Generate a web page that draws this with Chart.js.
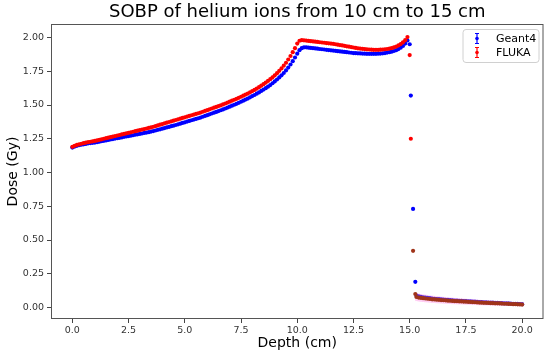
<!DOCTYPE html>
<html>
<head>
<meta charset="utf-8">
<script src="https://cdn.jsdelivr.net/npm/chart.js@4/dist/chart.umd.min.js"></script>
<style>
  html, body { margin: 0; padding: 0; background: #fff; }
  #wrap { width: 550px; height: 357px; }
</style>
</head>
<body>
<div id="wrap"><canvas id="sobp" width="550" height="357"></canvas></div>
<script>
// depth (cm) of every scoring bin
const depthCm = [
  0.0, 0.1, 0.2, 0.3, 0.4, 0.5, 0.6, 0.7, 0.8, 0.9,
  1.0, 1.1, 1.2, 1.3, 1.4, 1.5, 1.6, 1.7, 1.8, 1.9,
  2.0, 2.1, 2.2, 2.3, 2.4, 2.5, 2.6, 2.7, 2.8, 2.9,
  3.0, 3.1, 3.2, 3.3, 3.4, 3.5, 3.6, 3.7, 3.8, 3.9,
  4.0, 4.1, 4.2, 4.3, 4.4, 4.5, 4.6, 4.7, 4.8, 4.9,
  5.0, 5.1, 5.2, 5.3, 5.4, 5.5, 5.6, 5.7, 5.8, 5.9,
  6.0, 6.1, 6.2, 6.3, 6.4, 6.5, 6.6, 6.7, 6.8, 6.9,
  7.0, 7.1, 7.2, 7.3, 7.4, 7.5, 7.6, 7.7, 7.8, 7.9,
  8.0, 8.1, 8.2, 8.3, 8.4, 8.5, 8.6, 8.7, 8.8, 8.9,
  9.0, 9.1, 9.2, 9.3, 9.4, 9.5, 9.6, 9.7, 9.8, 9.9,
  10.0, 10.1, 10.2, 10.3, 10.4, 10.5, 10.6, 10.7, 10.8, 10.9,
  11.0, 11.1, 11.2, 11.3, 11.4, 11.5, 11.6, 11.7, 11.8, 11.9,
  12.0, 12.1, 12.2, 12.3, 12.4, 12.5, 12.6, 12.7, 12.8, 12.9,
  13.0, 13.1, 13.2, 13.3, 13.4, 13.5, 13.6, 13.7, 13.8, 13.9,
  14.0, 14.1, 14.2, 14.3, 14.4, 14.5, 14.6, 14.7, 14.8, 14.9,
  15.0, 15.05, 15.15, 15.25,
  15.3, 15.4, 15.5, 15.6, 15.7, 15.8, 15.9, 16.0,
  16.1, 16.2, 16.3, 16.4, 16.5, 16.6, 16.7, 16.8, 16.9, 17.0,
  17.1, 17.2, 17.3, 17.4, 17.5, 17.6, 17.7, 17.8, 17.9, 18.0,
  18.1, 18.2, 18.3, 18.4, 18.5, 18.6, 18.7, 18.8, 18.9, 19.0,
  19.1, 19.2, 19.3, 19.4, 19.5, 19.6, 19.7, 19.8, 19.9, 20.0
];

const geant4Dose = [
  1.185, 1.192, 1.198, 1.202, 1.206, 1.209, 1.212, 1.216, 1.218, 1.220,
  1.222, 1.225, 1.228, 1.232, 1.235, 1.238, 1.241, 1.245, 1.248, 1.251,
  1.254, 1.257, 1.260, 1.264, 1.267, 1.270, 1.273, 1.276, 1.280, 1.283,
  1.286, 1.289, 1.293, 1.296, 1.299, 1.303, 1.307, 1.311, 1.316, 1.320,
  1.325, 1.329, 1.334, 1.338, 1.343, 1.347, 1.352, 1.357, 1.362, 1.367,
  1.372, 1.377, 1.382, 1.387, 1.392, 1.397, 1.402, 1.407, 1.413, 1.419,
  1.425, 1.431, 1.437, 1.443, 1.449, 1.455, 1.461, 1.467, 1.474, 1.481,
  1.488, 1.495, 1.502, 1.509, 1.516, 1.524, 1.532, 1.540, 1.548, 1.557,
  1.566, 1.574, 1.584, 1.593, 1.604, 1.614, 1.625, 1.636, 1.648, 1.661,
  1.675, 1.689, 1.704, 1.720, 1.737, 1.756, 1.777, 1.800, 1.825, 1.852,
  1.880, 1.906, 1.921, 1.927, 1.927, 1.925, 1.923, 1.921, 1.919, 1.917,
  1.915, 1.913, 1.911, 1.909, 1.907, 1.905, 1.903, 1.901, 1.899, 1.897,
  1.895, 1.893, 1.891, 1.889, 1.887, 1.885, 1.884, 1.883, 1.882, 1.881,
  1.880, 1.879, 1.879, 1.879, 1.879, 1.879, 1.880, 1.881, 1.883, 1.885,
  1.888, 1.891, 1.895, 1.900, 1.906, 1.914, 1.924, 1.937, 1.955, 1.978,
  1.950, 1.570, 0.730, 0.190,
  0.088, 0.083, 0.079, 0.076, 0.073, 0.071, 0.069, 0.067,
  0.065, 0.063, 0.062, 0.060, 0.059, 0.057, 0.056, 0.055, 0.053, 0.052,
  0.051, 0.050, 0.049, 0.048, 0.047, 0.046, 0.045, 0.044, 0.043, 0.042,
  0.041, 0.040, 0.039, 0.038, 0.037, 0.036, 0.036, 0.035, 0.034, 0.033,
  0.032, 0.031, 0.031, 0.030, 0.029, 0.028, 0.028, 0.027, 0.026, 0.025
];

const flukaDose = [
  1.190, 1.198, 1.204, 1.209, 1.213, 1.217, 1.221, 1.225, 1.228, 1.231,
  1.234, 1.238, 1.242, 1.246, 1.250, 1.254, 1.258, 1.262, 1.266, 1.270,
  1.274, 1.278, 1.282, 1.286, 1.290, 1.294, 1.298, 1.302, 1.306, 1.310,
  1.314, 1.318, 1.322, 1.326, 1.330, 1.334, 1.339, 1.344, 1.349, 1.354,
  1.359, 1.364, 1.369, 1.374, 1.379, 1.384, 1.389, 1.394, 1.399, 1.404,
  1.409, 1.414, 1.419, 1.424, 1.429, 1.434, 1.439, 1.444, 1.450, 1.456,
  1.462, 1.468, 1.474, 1.480, 1.486, 1.492, 1.498, 1.504, 1.511, 1.518,
  1.525, 1.532, 1.539, 1.546, 1.553, 1.561, 1.569, 1.577, 1.585, 1.594,
  1.603, 1.612, 1.622, 1.632, 1.643, 1.654, 1.666, 1.678, 1.691, 1.705,
  1.720, 1.736, 1.753, 1.771, 1.791, 1.813, 1.837, 1.863, 1.891, 1.921,
  1.955, 1.976, 1.980, 1.979, 1.977, 1.975, 1.973, 1.971, 1.969, 1.967,
  1.965, 1.963, 1.961, 1.959, 1.957, 1.955, 1.953, 1.950, 1.947, 1.944,
  1.941, 1.938, 1.935, 1.932, 1.929, 1.926, 1.923, 1.920, 1.918, 1.916,
  1.914, 1.912, 1.911, 1.910, 1.909, 1.909, 1.909, 1.910, 1.911, 1.913,
  1.915, 1.918, 1.922, 1.927, 1.933, 1.941, 1.951, 1.964, 1.980, 2.003,
  1.870, 1.250, 0.420, 0.100,
  0.078, 0.074, 0.071, 0.069, 0.067, 0.065, 0.063, 0.061,
  0.060, 0.058, 0.057, 0.055, 0.054, 0.053, 0.051, 0.050, 0.049, 0.048,
  0.047, 0.046, 0.045, 0.044, 0.043, 0.042, 0.041, 0.040, 0.039, 0.038,
  0.037, 0.036, 0.035, 0.035, 0.034, 0.033, 0.032, 0.031, 0.031, 0.030,
  0.029, 0.028, 0.028, 0.027, 0.026, 0.025, 0.025, 0.024, 0.023, 0.022
];

// FLUKA uncertainty, only visible in the low-dose tail (depth >= 15.3 cm)
const flukaTailErr = [
  0.030, 0.029, 0.029, 0.028, 0.028, 0.027, 0.027, 0.027,
  0.026, 0.026, 0.026, 0.025, 0.025, 0.025, 0.024, 0.024, 0.024, 0.023,
  0.023, 0.023, 0.022, 0.022, 0.022, 0.021, 0.021, 0.021, 0.020, 0.020,
  0.020, 0.019, 0.019, 0.019, 0.018, 0.018, 0.018, 0.017, 0.017, 0.017,
  0.016, 0.016, 0.016, 0.015, 0.015, 0.015, 0.014, 0.014, 0.014, 0.013
];

const xTicks = [0, 2.5, 5, 7.5, 10, 12.5, 15, 17.5, 20];
const yTicks = [0, 0.25, 0.5, 0.75, 1.0, 1.25, 1.5, 1.75, 2.0];
const seriesNames = ["Geant4", "FLUKA"];

const FONT = "'DejaVu Sans', sans-serif";
const BLUE = "#0000ff";
const RED = "#ff0000";
const TAIL_START = depthCm.length - flukaTailErr.length;

function toPoints(values) {
  return depthCm.map((d, i) => ({ x: d, y: values[i] }));
}

// pink error bars in the tail, drawn under the markers
const errPlugin = {
  id: "errbars",
  beforeDatasetsDraw(chart) {
    const { ctx } = chart;
    const xs = chart.scales.x, ys = chart.scales.y;
    ctx.save();
    ctx.strokeStyle = "rgba(255, 150, 230, 0.45)";
    ctx.lineWidth = 2.5;
    flukaTailErr.forEach((e, i) => {
      const k = TAIL_START + i;
      const px = xs.getPixelForValue(depthCm[k]);
      ctx.beginPath();
      ctx.moveTo(px, ys.getPixelForValue(flukaDose[k] - e));
      ctx.lineTo(px, ys.getPixelForValue(flukaDose[k] + e));
      ctx.stroke();
    });
    ctx.restore();
  }
};

// frame, title, axis labels and the errorbar-style legend
const decorPlugin = {
  id: "decor",
  afterDraw(chart) {
    const { ctx, chartArea: a } = chart;
    ctx.save();
    ctx.strokeStyle = "#555";
    ctx.lineWidth = 1;
    ctx.strokeRect(a.left + 0.5, a.top + 0.5, a.right - a.left - 1, a.bottom - a.top - 1);

    const cx = (a.left + a.right) / 2;
    ctx.fillStyle = "#000";
    ctx.textAlign = "center";
    ctx.textBaseline = "middle";
    ctx.font = "18px " + FONT;
    ctx.fillText("SOBP of helium ions from 10 cm to 15 cm", cx, 12.5);

    ctx.font = "14px " + FONT;
    ctx.fillText("Depth (cm)", cx, 343);
    ctx.save();
    ctx.translate(13, (a.top + a.bottom) / 2);
    ctx.rotate(-Math.PI / 2);
    ctx.fillText("Dose (Gy)", 0, 0);
    ctx.restore();

    // legend box
    const bx = 463, by = 29.5, bw = 76, bh = 33;
    ctx.fillStyle = "rgba(255,255,255,0.8)";
    ctx.strokeStyle = "#d0d0d0";
    ctx.beginPath();
    ctx.roundRect(bx, by, bw, bh, 3);
    ctx.fill();
    ctx.stroke();

    const colors = [BLUE, RED];
    seriesNames.forEach((name, i) => {
      const y = 38.5 + i * 14;
      const x = 477;
      ctx.strokeStyle = colors[i];
      ctx.fillStyle = colors[i];
      ctx.lineWidth = 1.2;
      ctx.beginPath();
      ctx.moveTo(x, y - 5); ctx.lineTo(x, y + 5);
      ctx.moveTo(x - 2, y - 5); ctx.lineTo(x + 2, y - 5);
      ctx.moveTo(x - 2, y + 5); ctx.lineTo(x + 2, y + 5);
      ctx.stroke();
      ctx.beginPath();
      ctx.arc(x, y, 1.8, 0, Math.PI * 2);
      ctx.fill();
      ctx.fillStyle = "#000";
      ctx.textAlign = "left";
      ctx.font = "11px " + FONT;
      ctx.fillText(name, 496, y + 0.5);
    });
    ctx.restore();
  }
};

new Chart(document.getElementById("sobp"), {
  type: "scatter",
  data: {
    datasets: [
      {
        label: "FLUKA",
        data: toPoints(flukaDose),
        pointRadius: 2.1,
        borderWidth: 0,
        backgroundColor: (c) => (c.raw && c.raw.x > 15.1 ? "#a0341a" : RED),
      },
      {
        label: "Geant4",
        data: toPoints(geant4Dose),
        pointRadius: 2.1,
        borderWidth: 0,
        backgroundColor: (c) => (c.raw && c.raw.x > 15.27 ? "#5b2bd6" : BLUE),
      },
    ],
  },
  options: {
    responsive: false,
    animation: false,
    events: [],
    layout: { padding: { left: 0, top: 24, right: 6.5, bottom: 0 } },
    plugins: { legend: { display: false }, tooltip: { enabled: false } },
    scales: {
      x: {
        type: "linear",
        min: -0.95,
        max: 20.95,
        afterBuildTicks: (s) => { s.ticks = xTicks.map((v) => ({ value: v })); },
        afterFit: (s) => { s.height = 38; },
        grid: { drawOnChartArea: false, tickLength: 4, tickColor: "#444" },
        border: { display: false },
        ticks: {
          color: "#333",
          font: { family: FONT, size: 9.5 },
          padding: 2,
          maxRotation: 0,
          callback: (v) => Number(v).toFixed(1),
        },
      },
      y: {
        type: "linear",
        min: -0.085,
        max: 2.1,
        afterBuildTicks: (s) => { s.ticks = yTicks.map((v) => ({ value: v })); },
        afterFit: (s) => { s.width = 51; },
        grid: { drawOnChartArea: false, tickLength: 4, tickColor: "#444" },
        border: { display: false },
        ticks: {
          color: "#333",
          font: { family: FONT, size: 9.5 },
          padding: 3,
          callback: (v) => Number(v).toFixed(2),
        },
      },
    },
  },
  plugins: [errPlugin, decorPlugin],
});
</script>
</body>
</html>
